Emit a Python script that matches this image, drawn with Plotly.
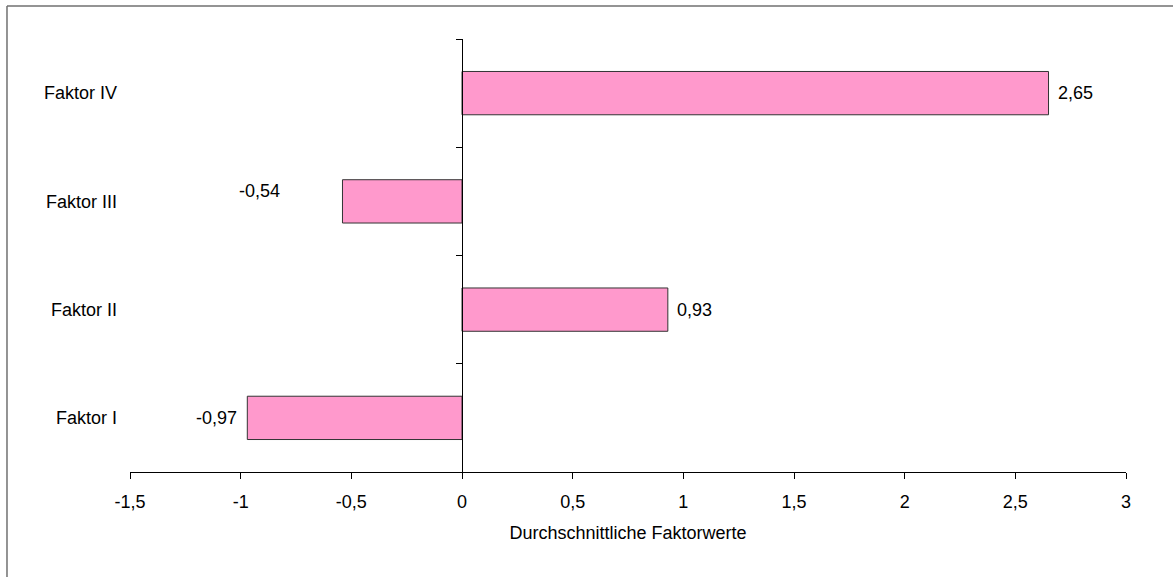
import plotly.graph_objects as go

# ---- data ----
categories = ["Faktor I", "Faktor II", "Faktor III", "Faktor IV"]
values = [-0.97, 0.93, -0.54, 2.65]
x_tick_values = [-1.5, -1, -0.5, 0, 0.5, 1, 1.5, 2, 2.5, 3]
x_tick_labels = ["-1,5", "-1", "-0,5", "0", "0,5", "1", "1,5", "2", "2,5", "3"]
x_title = "Durchschnittliche Faktorwerte"

FONT = "Arial, 'Liberation Sans', sans-serif"
FS = 18

fig = go.Figure()
fig.add_trace(go.Bar(
    y=categories, x=values, orientation="h",
    marker=dict(color="#FF99CC", line=dict(color="#333333", width=1)),
    hoverinfo="skip", showlegend=False,
))

# value labels (Excel-like placement)
label_offsets = {"Faktor III": (-60, 10)}
for cat, v in zip(categories, values):
    txt = f"{v:.2f}".replace(".", ",")
    dx, dy = label_offsets.get(cat, (7 if v >= 0 else -8, 0))
    fig.add_annotation(
        x=v, y=cat, text=txt, showarrow=False,
        xanchor="left" if v >= 0 else "right", yanchor="middle",
        xshift=dx, yshift=dy,
        font=dict(family=FONT, size=FS, color="black"),
    )

# outer chart-area frame: only its left and top edges fall inside the canvas
frame = dict(color="#707070", width=1.5)
fig.add_shape(type="line", xref="paper", yref="paper",
              x0=-0.1235, x1=-0.1235, y0=-0.5, y1=1.0762, line=frame)
fig.add_shape(type="line", xref="paper", yref="paper",
              x0=-0.1235, x1=1.4, y0=1.0762, y1=1.0762, line=frame)

fig.update_layout(
    width=1173, height=577,
    margin=dict(l=130, r=47, t=39, b=105),
    paper_bgcolor="white", plot_bgcolor="white",
    font=dict(family=FONT, size=FS, color="black"),
    bargap=0.6,
    xaxis=dict(
        range=[-1.5, 3], tickmode="array", tickvals=x_tick_values, ticktext=x_tick_labels,
        showgrid=False, zeroline=False, showline=True, linecolor="black", linewidth=1,
        ticks="outside", ticklen=6, tickcolor="black", ticklabelstandoff=7,
        title=dict(text=x_title, standoff=15, font=dict(size=FS)),
        tickfont=dict(size=FS),
    ),
    yaxis=dict(
        type="category", categoryorder="array", categoryarray=categories,
        range=[-0.5, 3.5], showgrid=False, zeroline=False, showline=False,
        ticks="", ticklabelstandoff=12, tickfont=dict(size=FS),
    ),
    yaxis2=dict(
        overlaying="y", anchor="free", position=1/3, side="left",
        range=[-0.5, 3.5], tickmode="array", tickvals=[-0.5, 0.5, 1.5, 2.5, 3.5],
        showticklabels=False, showgrid=False, zeroline=False,
        showline=True, linecolor="black", linewidth=1,
        ticks="outside", ticklen=6, tickcolor="black",
    ),
)
fig.add_trace(go.Scatter(x=[None], y=[None], yaxis="y2", showlegend=False, hoverinfo="skip"))

fig.write_html("out.html", config={"displayModeBar": False},
               post_script="document.body.style.margin='0';document.body.style.overflow='hidden';")
